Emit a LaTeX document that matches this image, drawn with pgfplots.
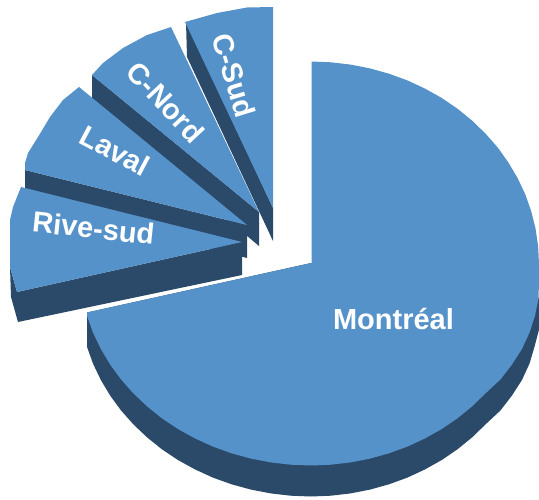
\documentclass[border=0pt]{standalone}
\usepackage{fontspec}
\setmainfont{Liberation Sans}
\usepackage{pgfplots}
\pgfplotsset{compat=1.18}
\definecolor{pietop}{HTML}{5592C9}
\definecolor{pieside}{HTML}{2B4A69}
\tikzset{lab/.style={text=white, font=\bfseries\fontsize{29}{30}\selectfont, inner sep=0pt}}
\begin{document}
\begin{tikzpicture}
\useasboundingbox (0,0) rectangle (539pt,499pt);
\begin{axis}[
  at={(0,0)}, anchor=south west,
  scale only axis, width=539pt, height=499pt,
  xmin=0, xmax=539, ymin=0, ymax=499, y dir=reverse,
  hide axis, clip=true,
  every axis plot/.append style={no markers, draw=none, forget plot}
]
% C-Sud
\addplot[fill=pieside] coordinates {(186,22)(187,57)(273,241)(273,208)} -- cycle;
\addplot[fill=pietop] coordinates {(273,208)(273,7)(247,7.5)(217,13)(185,22)} -- cycle;
% C-Nord
\addplot[fill=pieside] coordinates {(92,75)(92,105)(259,246)(259,212)} -- cycle;
\addplot[fill=pietop] coordinates {(259,212)(171,27)(147,35)(123,48)(103,63)(92,75)} -- cycle;
% Laval
\addplot[fill=pieside] coordinates {(25,170)(25,200)(247,258)(247,225)} -- cycle;
\addplot[fill=pietop] coordinates {(247,225)(79,87)(63,100)(50,117)(38,137)(28,153)(25,163)(25,170)} -- cycle;
% Rive-sud
\addplot[fill=pieside] coordinates {(10,267)(11,297)(18,322)(242,275)(242,242)(17,292)} -- cycle;
\addplot[fill=pietop] coordinates {(242,242)(21,187)(13,207)(10,220)(10,267)(17,292)} -- cycle;
% Montreal side
\addplot[fill=pieside] coordinates {
(539,298)(539,329.6)(534.5,346.8)(529.5,363.6)(522,379.9)(512,395.5)(500.5,410.4)
(485.6,424.3)(472.2,437.3)(457.6,449.2)(441.8,460)(425,469.4)(407.4,477.6)(389,484.3)(370,489.6)
(350.6,493.4)(330.9,495.7)(311,496.5)(290.7,495.7)(270.7,493.4)(251,489.6)(231.6,484.3)(212.9,477.6)
(195,469.4)(177.9,460)(161.8,449.2)(147,437.3)(133.3,424.3)(121,410.4)(110.1,395.5)(100.8,379.9)
(93,363.6)(87,346.8)(87,312.5)(311,263)} -- cycle;
% Montreal top
\addplot[fill=pietop] coordinates {
(311.5,61.5)(330.9,62.3)(350.6,64.6)(370,68.4)(389,73.7)(407.4,80.4)(425,88.6)(441.8,98)(457.6,108.8)
(472.2,120.7)(485.6,133.7)(497.8,147.6)(508.4,162.5)(517.6,178.1)(525.3,194.4)(531.2,211.2)(535.5,228.4)
(538.1,245.9)(539,263.5)(539,281.1)(538.5,298.6)(535,315.8)(529.5,332.6)(522,348.9)(512,364.5)
(500.5,379.4)(485.6,393.3)(472.2,406.3)(457.6,418.2)(441.8,429)(425,438.4)(407.4,446.6)(389,453.3)
(370,458.6)(350.6,462.4)(330.9,464.7)(311,465.5)(290.7,464.7)(270.7,462.4)(251,458.6)(231.6,453.3)
(212.9,446.6)(195,438.4)(177.9,429)(161.8,418.2)(147,406.3)(133.3,393.3)(121,379.4)(110.1,364.5)
(100.8,348.9)(93,332.6)(87,315.8)(87,312.5)(311.5,263)} -- cycle;
\node[lab] at (axis cs:393.5,319) {Montréal};
\node[lab, rotate=-6] at (axis cs:93.5,228) {Rive-sud};
\node[lab, rotate=-28] at (axis cs:115,150.5) {Laval};
\node[lab, rotate=-47] at (axis cs:165.5,102) {C-Nord};
\node[lab, rotate=-73] at (axis cs:234,75.5) {C-Sud};
\end{axis}
\end{tikzpicture}
\end{document}
